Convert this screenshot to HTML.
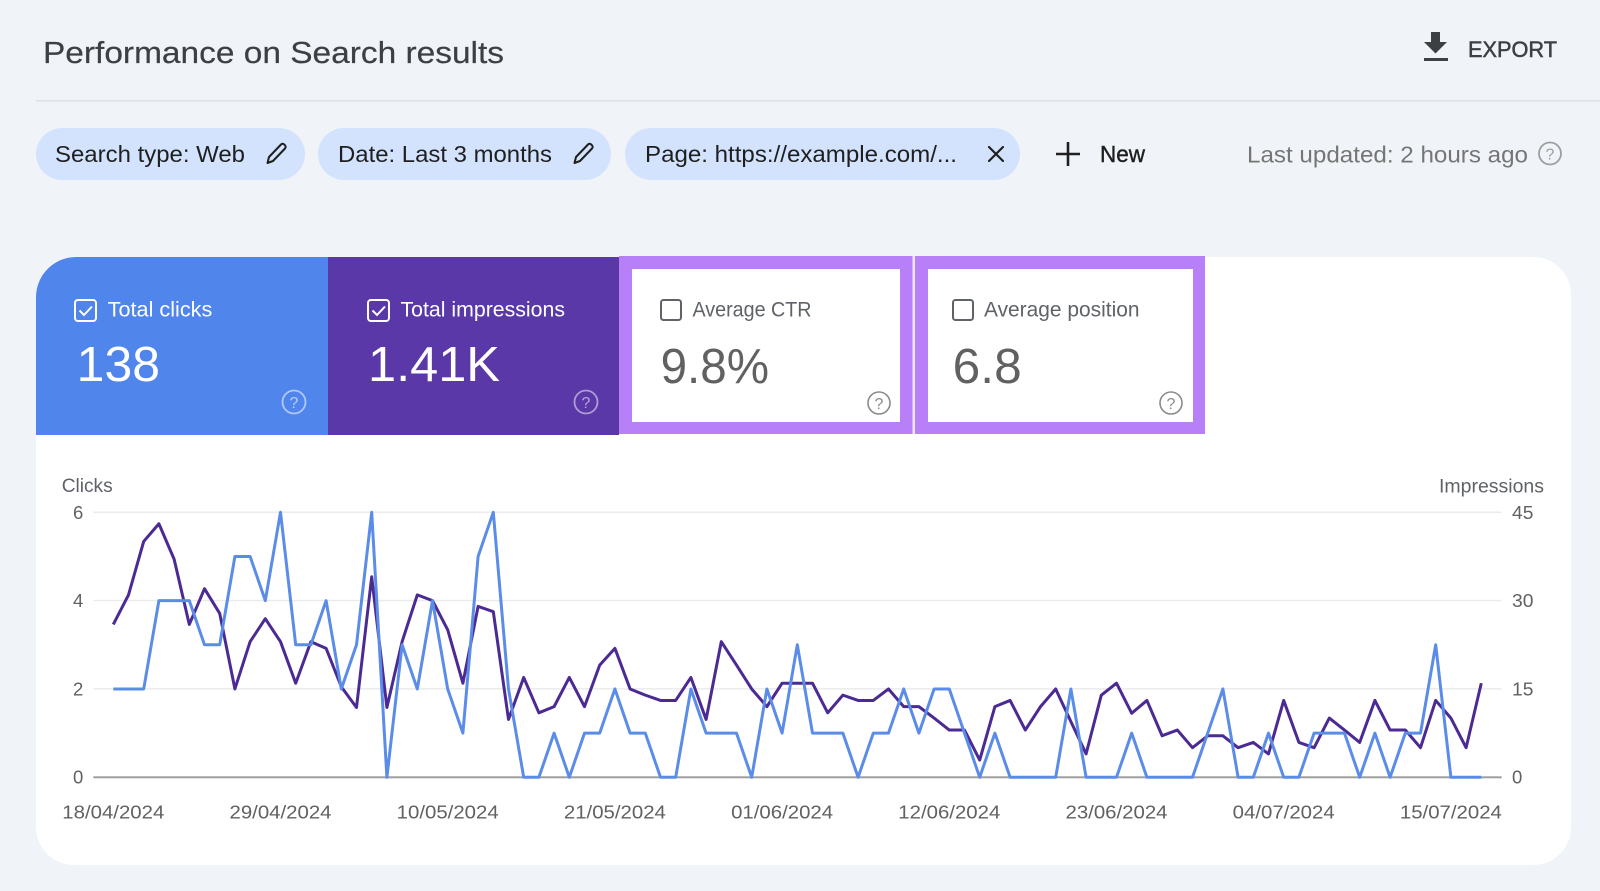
<!DOCTYPE html>
<html>
<head>
<meta charset="utf-8">
<style>
html,body{margin:0;padding:0;background:#f0f4f9;}
svg{display:block;}
text{font-family:"Liberation Sans",Arial,sans-serif;}
</style>
</head>
<body>
<svg width="1600" height="891" viewBox="0 0 1600 891" xmlns="http://www.w3.org/2000/svg">
  <rect x="0" y="0" width="1600" height="891" fill="#f0f4f9"/>

  <!-- Title -->
  <text x="43" y="63" font-size="30.5" fill="#3c4043" stroke="#3c4043" stroke-width="0.2" textLength="461" lengthAdjust="spacingAndGlyphs">Performance on Search results</text>

  <!-- Export -->
  <path d="M1431 32 h9 v10 h7 l-11.5 11.5 l-11.5 -11.5 h7 z" fill="#3c4043"/>
  <rect x="1424" y="58" width="24" height="3" fill="#3c4043"/>
  <text x="1468" y="57" font-size="22" fill="#3c4043" stroke="#3c4043" stroke-width="0.5" textLength="89" lengthAdjust="spacingAndGlyphs">EXPORT</text>

  <!-- divider -->
  <rect x="36" y="100" width="1564" height="1.5" fill="#dde1e6"/>

  <!-- Chips -->
  <rect x="36" y="128" width="269" height="52" rx="26" fill="#d3e3fd"/>
  <text x="55" y="162" font-size="23" fill="#1f1f1f" textLength="190" lengthAdjust="spacingAndGlyphs">Search type: Web</text>

  <rect x="318" y="128" width="293" height="52" rx="26" fill="#d3e3fd"/>
  <text x="338" y="162" font-size="23" fill="#1f1f1f" textLength="214" lengthAdjust="spacingAndGlyphs">Date: Last 3 months</text>

  <rect x="625" y="128" width="395" height="52" rx="26" fill="#d3e3fd"/>
  <text x="645" y="162" font-size="23" fill="#1f1f1f" textLength="312" lengthAdjust="spacingAndGlyphs">Page: https://example.com/...</text>

  <g fill="none" stroke="#1f1f1f" stroke-width="2" stroke-linejoin="round">
    <path d="M267.5 163 l1.5 -6 l12 -12.5 a2.2 2.2 0 0 1 3.2 0 l0.8 0.8 a2.2 2.2 0 0 1 0 3.2 l-12 12.5 z"/>
    <path d="M574.5 163 l1.5 -6 l12 -12.5 a2.2 2.2 0 0 1 3.2 0 l0.8 0.8 a2.2 2.2 0 0 1 0 3.2 l-12 12.5 z"/>
  </g>
  <g stroke="#1f1f1f" stroke-width="2.2" stroke-linecap="round">
    <line x1="989" y1="147" x2="1003" y2="161"/>
    <line x1="1003" y1="147" x2="989" y2="161"/>
  </g>

  <g stroke="#1f1f1f" stroke-width="2.6">
    <line x1="1056" y1="154" x2="1080" y2="154"/>
    <line x1="1068" y1="142" x2="1068" y2="166"/>
  </g>
  <text x="1100" y="162" font-size="23" fill="#1f1f1f" stroke="#1f1f1f" stroke-width="0.4" textLength="45" lengthAdjust="spacingAndGlyphs">New</text>

  <text x="1247" y="162.3" font-size="23" fill="#757575" textLength="281" lengthAdjust="spacingAndGlyphs">Last updated: 2 hours ago</text>
  <circle cx="1550" cy="153.5" r="11" fill="none" stroke="#9e9e9e" stroke-width="1.8"/>
  <text x="1550" y="159.5" font-size="16" fill="#9e9e9e" text-anchor="middle">?</text>

  <!-- Main card -->
  <rect x="36" y="257" width="1535" height="608" rx="38" fill="#ffffff"/>

  <!-- Blue metric -->
  <path d="M36 435 V297 A40 40 0 0 1 76 257 H328 V435 Z" fill="#5085ec"/>
  <rect x="328" y="257" width="291" height="178" fill="#5a38a8"/>

  <!-- CTR box -->
  <rect x="619" y="256" width="293.5" height="178" fill="#b77ff8"/>
  <rect x="632" y="269" width="268" height="153" fill="#ffffff"/>
  <rect x="912.5" y="256" width="2.5" height="178" fill="#efe6fd"/>
  <!-- Position box -->
  <rect x="915" y="256" width="290" height="178" fill="#b77ff8"/>
  <rect x="928" y="269" width="265" height="153" fill="#ffffff"/>

  <!-- Total clicks -->
  <rect x="75" y="300" width="21" height="21" rx="3" fill="none" stroke="#ffffff" stroke-width="2"/>
  <path d="M79.5 310.5 l4.5 4.5 l8 -8.5" fill="none" stroke="#ffffff" stroke-width="2"/>
  <text x="107.7" y="316.7" font-size="21" fill="#ffffff" textLength="104.6" lengthAdjust="spacingAndGlyphs">Total clicks</text>
  <text x="76.7" y="381" font-size="49" fill="#ffffff" textLength="83.3" lengthAdjust="spacingAndGlyphs">138</text>
  <circle cx="294" cy="402" r="11.5" fill="none" stroke="rgba(255,255,255,0.55)" stroke-width="1.8"/>
  <text x="294" y="408" font-size="16" fill="rgba(255,255,255,0.6)" text-anchor="middle">?</text>

  <!-- Total impressions -->
  <rect x="368" y="300" width="21" height="21" rx="3" fill="none" stroke="#ffffff" stroke-width="2"/>
  <path d="M372.5 310.5 l4.5 4.5 l8 -8.5" fill="none" stroke="#ffffff" stroke-width="2"/>
  <text x="400.5" y="316.7" font-size="21" fill="#ffffff" textLength="164.5" lengthAdjust="spacingAndGlyphs">Total impressions</text>
  <text x="368" y="381" font-size="49" fill="#ffffff" textLength="132" lengthAdjust="spacingAndGlyphs">1.41K</text>
  <circle cx="586" cy="402" r="11.5" fill="none" stroke="rgba(255,255,255,0.5)" stroke-width="1.8"/>
  <text x="586" y="408" font-size="16" fill="rgba(255,255,255,0.55)" text-anchor="middle">?</text>

  <!-- Average CTR -->
  <rect x="661" y="300" width="20" height="20" rx="2.5" fill="none" stroke="#5f6368" stroke-width="2"/>
  <text x="692.5" y="316.7" font-size="21" fill="#5f6368" textLength="119" lengthAdjust="spacingAndGlyphs">Average CTR</text>
  <text x="660.6" y="383" font-size="49" fill="#616161" textLength="108.4" lengthAdjust="spacingAndGlyphs">9.8%</text>
  <circle cx="879" cy="403" r="11" fill="none" stroke="#8a8a8a" stroke-width="1.6"/>
  <text x="879" y="409" font-size="16" fill="#8a8a8a" text-anchor="middle">?</text>

  <!-- Average position -->
  <rect x="953" y="300" width="20" height="20" rx="2.5" fill="none" stroke="#5f6368" stroke-width="2"/>
  <text x="984" y="316.7" font-size="21" fill="#5f6368" textLength="155.5" lengthAdjust="spacingAndGlyphs">Average position</text>
  <text x="952.7" y="383" font-size="49" fill="#616161" textLength="69" lengthAdjust="spacingAndGlyphs">6.8</text>
  <circle cx="1171" cy="403" r="11" fill="none" stroke="#8a8a8a" stroke-width="1.6"/>
  <text x="1171" y="409" font-size="16" fill="#8a8a8a" text-anchor="middle">?</text>

  <!-- Chart axes labels -->
  <text x="61.7" y="492" font-size="19.5" fill="#5f6368" textLength="51" lengthAdjust="spacingAndGlyphs">Clicks</text>
  <text x="1439" y="492.3" font-size="19.5" fill="#5f6368" textLength="105" lengthAdjust="spacingAndGlyphs">Impressions</text>

  <!-- gridlines -->
  <g fill="#ebebeb">
    <rect x="93.3" y="511.5" width="1408.4" height="1.5"/>
    <rect x="93.3" y="599.8" width="1408.4" height="1.5"/>
    <rect x="93.3" y="688.1" width="1408.4" height="1.5"/>
  </g>
  <rect x="93.3" y="776.3" width="1408.4" height="2" fill="#9e9e9e"/>

  <!-- left ticks -->
  <g font-size="18.5" fill="#616161" text-anchor="end">
    <text x="83.3" y="518.8">6</text>
    <text x="83.3" y="607.1">4</text>
    <text x="83.3" y="695.4">2</text>
    <text x="83.3" y="783.7">0</text>
  </g>
  <!-- right ticks -->
  <g font-size="18.5" fill="#616161">
    <text x="1512" y="518.8" textLength="21.4" lengthAdjust="spacingAndGlyphs">45</text>
    <text x="1512" y="607.1" textLength="21.4" lengthAdjust="spacingAndGlyphs">30</text>
    <text x="1512" y="695.4" textLength="21.4" lengthAdjust="spacingAndGlyphs">15</text>
    <text x="1512" y="783.7">0</text>
  </g>

  <!-- x labels -->
  <g font-size="18.6" fill="#616161" text-anchor="middle">
    <text x="113.3" y="818.3" textLength="102" lengthAdjust="spacingAndGlyphs">18/04/2024</text>
    <text x="280.5" y="818.3" textLength="102" lengthAdjust="spacingAndGlyphs">29/04/2024</text>
    <text x="447.7" y="818.3" textLength="102" lengthAdjust="spacingAndGlyphs">10/05/2024</text>
    <text x="614.9" y="818.3" textLength="102" lengthAdjust="spacingAndGlyphs">21/05/2024</text>
    <text x="782.1" y="818.3" textLength="102" lengthAdjust="spacingAndGlyphs">01/06/2024</text>
    <text x="949.3" y="818.3" textLength="102" lengthAdjust="spacingAndGlyphs">12/06/2024</text>
    <text x="1116.5" y="818.3" textLength="102" lengthAdjust="spacingAndGlyphs">23/06/2024</text>
    <text x="1283.7" y="818.3" textLength="102" lengthAdjust="spacingAndGlyphs">04/07/2024</text>
    <text x="1450.9" y="818.3" textLength="102" lengthAdjust="spacingAndGlyphs">15/07/2024</text>
  </g>

  <!-- series -->
  <g transform="translate(113.3 777.3) scale(15.2 -44.17)">
    <polyline fill="none" stroke="#4b2b93" stroke-width="3" stroke-linejoin="round" vector-effect="non-scaling-stroke"
      points="0,3.46 1,4.13 2,5.34 3,5.74 4,4.94 5,3.46 6,4.27 7,3.71 8,2 9,3.07 10,3.59 11,3.07 12,2.13 13,3.07 14,2.92 15,2.05 16,1.58 17,4.54 18,1.58 19,3.07 20,4.13 21,4 22,3.34 23,2.13 24,3.87 25,3.75 26,1.31 27,2.26 28,1.46 29,1.6 30,2.26 31,1.6 32,2.54 33,2.92 34,2 35,1.86 36,1.74 37,1.74 38,2.26 39,1.31 40,3.07 41,2.54 42,2 43,1.6 44,2.13 45,2.13 46,2.13 47,1.46 48,1.86 49,1.74 50,1.74 51,2 52,1.6 53,1.6 54,1.34 55,1.07 56,1.07 57,0.39 58,1.6 59,1.74 60,1.07 61,1.6 62,2 63,1.26 64,0.53 65,1.86 66,2.13 67,1.45 68,1.74 69,0.94 70,1.07 71,0.67 72,0.94 73,0.94 74,0.67 75,0.79 76,0.53 77,1.74 78,0.79 79,0.67 80,1.34 81,1.07 82,0.79 83,1.74 84,1.07 85,1.07 86,0.67 87,1.74 88,1.34 89,0.67 90,2.13"/>
    <polyline fill="none" stroke="#5b8de8" stroke-width="3" stroke-linejoin="round" vector-effect="non-scaling-stroke"
      points="0,2 1,2 2,2 3,4 4,4 5,4 6,3 7,3 8,5 9,5 10,4 11,6 12,3 13,3 14,4 15,2 16,3 17,6 18,0 19,3 20,2 21,4 22,2 23,1 24,5 25,6 26,2 27,0 28,0 29,1 30,0 31,1 32,1 33,2 34,1 35,1 36,0 37,0 38,2 39,1 40,1 41,1 42,0 43,2 44,1 45,3 46,1 47,1 48,1 49,0 50,1 51,1 52,2 53,1 54,2 55,2 56,1 57,0 58,1 59,0 60,0 61,0 62,0 63,2 64,0 65,0 66,0 67,1 68,0 69,0 70,0 71,0 72,1 73,2 74,0 75,0 76,1 77,0 78,0 79,1 80,1 81,1 82,0 83,1 84,0 85,1 86,1 87,3 88,0 89,0 90,0"/>
  </g>
</svg>
</body>
</html>
